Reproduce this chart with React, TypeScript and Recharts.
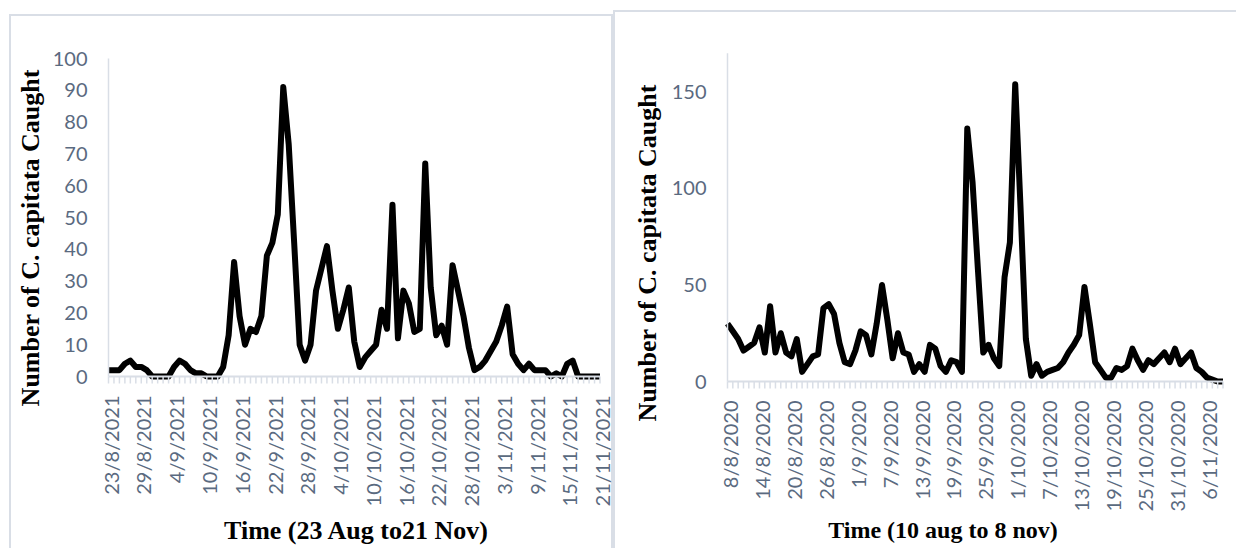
import React from 'react';
import { LineChart, Line, XAxis, YAxis } from 'recharts';

// daily C. capitata counts, 23/8/2021 .. 21/11/2021
const counts2021 = [
  2, 2, 2, 4, 5, 3, 3, 2, 0, 0, 0, 0, 3, 5, 4, 2, 1, 1, 0, 0,
  0, 3, 13, 36, 19, 10, 15, 14, 19, 38, 42, 51, 91, 73, 42, 10, 5, 10, 27, 34,
  41, 27, 15, 21, 28, 11, 3, 6, 8, 10, 21, 15, 54, 12, 27, 23, 14, 15, 67, 28,
  13, 16, 10, 35, 27, 19, 9, 2, 3, 5, 8, 11, 16, 22, 7, 4, 2, 4, 2, 2,
  2, 0, 1, 0, 4, 5, 0, 0, 0, 0, 0,
];

// daily C. capitata counts, 8/8/2020 .. 9/11/2020
const counts2020 = [
  30, 26, 22, 16, 18, 20, 28, 15, 39, 15, 25, 15, 13, 22, 5, 9, 13, 14, 38, 40,
  35, 20, 10, 9, 16, 26, 24, 14, 30, 50, 32, 12, 25, 15, 14, 5, 9, 5, 19, 17,
  8, 5, 11, 10, 5, 131, 103, 58, 15, 19, 12, 8, 54, 72, 154, 90, 22, 3, 9, 3,
  5, 6, 7, 10, 15, 19, 24, 49, 30, 10, 6, 2, 2, 7, 6, 8, 17, 11, 6, 11,
  9, 12, 15, 10, 17, 9, 12, 15, 7, 5, 2, 1, 0, 0,
];

const yTicks2021 = [0, 10, 20, 30, 40, 50, 60, 70, 80, 90, 100];
const yTicks2020 = [0, 50, 100, 150];

const yTitle = 'Number of C. capitata Caught';
const xTitle2021 = 'Time (23 Aug to21 Nov)';
const xTitle2020 = 'Time (10 aug to 8 nov)';

// day labels like 23/8/2021
const makeDays = (y: number, m: number, d: number, n: number) =>
  Array.from({ length: n }, (_, i) => {
    const dt = new Date(Date.UTC(y, m - 1, d + i));
    return `${dt.getUTCDate()}/${dt.getUTCMonth() + 1}/${dt.getUTCFullYear()}`;
  });

const days2021 = makeDays(2021, 8, 23, counts2021.length);
const days2020 = makeDays(2020, 8, 8, counts2020.length);

const data2021 = days2021.map((day, i) => ({ day, count: counts2021[i] }));
const data2020 = days2020.map((day, i) => ({ day, count: counts2020[i] }));

const TICK_COLOR = '#5a6a80';
const AXIS_COLOR = '#d9dee6';
const SANS = 'Lato, "Open Sans", sans-serif';
const SERIF = '"Liberation Serif", "Times New Roman", serif';

const DateTick = (props: any) => {
  const { x, payload, labelY } = props;
  const idx = payload?.index ?? props.index;
  if (idx % 6 !== 0) return null;
  return (
    <text
      transform={`translate(${x + 3},${labelY}) rotate(-90)`}
      textAnchor="end"
      dy="0.36em"
      fill={TICK_COLOR}
      fontSize={20}
      fontFamily={SANS}
    >
      {payload.value}
    </text>
  );
};

const CountTick = (props: any) => {
  const { y, payload, labelX } = props;
  return (
    <text x={labelX} y={y} dy="0.35em" textAnchor="end" fill={TICK_COLOR} fontSize={20} fontFamily={SANS}>
      {payload.value}
    </text>
  );
};

interface PanelProps {
  data: { day: string; count: number }[];
  width: number;
  plotLeft: number;
  plotRight: number;
  plotTop: number;
  plotBottom: number;
  yMax: number;
  yTicks: number[];
}

const Panel: React.FC<PanelProps> = ({ data, width, plotLeft, plotRight, plotTop, plotBottom, yMax, yTicks }) => {
  const yAxisWidth = 60;
  const xAxisHeight = 130;
  return (
    <LineChart
      width={width}
      height={548}
      data={data}
      style={{ overflow: 'visible' }}
      margin={{
        top: plotTop,
        left: plotLeft - yAxisWidth,
        right: width - plotRight,
        bottom: 548 - plotBottom - xAxisHeight,
      }}
    >
      <XAxis
        dataKey="day"
        interval={0}
        height={xAxisHeight}
        tickSize={7}
        axisLine={{ stroke: AXIS_COLOR, strokeWidth: 2 }}
        tickLine={{ stroke: AXIS_COLOR, strokeWidth: 1.5 }}
        tick={<DateTick labelY={plotBottom + 19} />}
      />
      <YAxis
        width={yAxisWidth}
        domain={[0, yMax]}
        ticks={yTicks}
        interval={0}
        tickLine={false}
        axisLine={{ stroke: AXIS_COLOR, strokeWidth: 1.5 }}
        tick={<CountTick labelX={plotLeft - 21} />}
      />
      <Line
        type="linear"
        dataKey="count"
        stroke="#000"
        strokeWidth={6}
        strokeLinejoin="round"
        dot={false}
        isAnimationActive={false}
      />
    </LineChart>
  );
};

const titleStyle: React.CSSProperties = {
  position: 'absolute',
  fontFamily: SERIF,
  fontWeight: 'bold',
  color: '#000',
  whiteSpace: 'nowrap',
  lineHeight: 1,
};

export default function App() {
  return (
    <div style={{ position: 'absolute', left: 0, top: 0, width: 1236, height: 548, background: '#fff', overflow: 'hidden' }}>
      {/* panel frames */}
      <div style={{ position: 'absolute', left: 9, top: 14, width: 600, height: 560, border: `2px solid ${AXIS_COLOR}` }} />
      <div style={{ position: 'absolute', left: 613, top: 10, width: 640, height: 560, border: `2px solid ${AXIS_COLOR}` }} />

      <div style={{ position: 'absolute', left: 0, top: 0 }}>
        <Panel
          data={data2021}
          width={624}
          plotLeft={108.5}
          plotRight={600}
          plotTop={58.5}
          plotBottom={376.5}
          yMax={100}
          yTicks={yTicks2021}
        />
      </div>
      <div style={{ position: 'absolute', left: 614, top: 0 }}>
        <Panel
          data={data2020}
          width={622}
          plotLeft={113.5}
          plotRight={609}
          plotTop={53.3}
          plotBottom={381.5}
          yMax={170}
          yTicks={yTicks2020}
        />
      </div>

      {/* axis titles */}
      <div style={{ ...titleStyle, left: 31, top: 238, fontSize: 26, transform: 'translate(-50%, -50%) rotate(-90deg)' }}>
        {yTitle}
      </div>
      <div style={{ ...titleStyle, left: 356, top: 531, fontSize: 26, transform: 'translate(-50%, -50%)' }}>
        {xTitle2021}
      </div>
      <div style={{ ...titleStyle, left: 648, top: 253, fontSize: 26, transform: 'translate(-50%, -50%) rotate(-90deg)' }}>
        {yTitle}
      </div>
      <div style={{ ...titleStyle, left: 943, top: 530, fontSize: 24, transform: 'translate(-50%, -50%)' }}>
        {xTitle2020}
      </div>
    </div>
  );
}
